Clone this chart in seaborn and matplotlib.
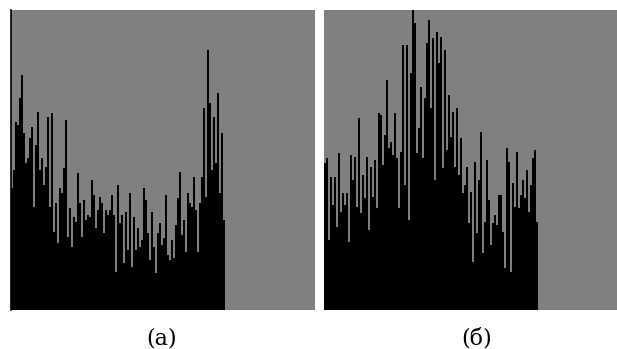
import numpy as np
import pandas as pd
import matplotlib
matplotlib.use("Agg")
import matplotlib.pyplot as plt
import seaborn as sns

# Histogram heights (pixel units of a 300-high panel), one per 2-px bin
hist_a = [122, 140, 188, 185, 212, 235, 177, 147, 152, 172, 183, 103, 165, 198,
          140, 152, 125, 143, 193, 103, 197, 78, 107, 67, 122, 117, 142, 190,
          73, 102, 63, 93, 88, 137, 107, 73, 110, 90, 95, 93, 130, 115, 82, 100,
          113, 107, 77, 100, 95, 100, 115, 95, 38, 125, 87, 95, 47, 98, 60, 117,
          43, 93, 60, 82, 63, 70, 122, 110, 77, 50, 98, 63, 37, 77, 87, 65, 72,
          115, 55, 50, 70, 52, 85, 112, 138, 75, 90, 58, 117, 107, 103, 133,
          100, 58, 107, 133, 202, 113, 260, 207, 140, 193, 147, 217, 117, 177, 90]
hist_b = [147, 152, 70, 133, 105, 133, 83, 157, 98, 117, 105, 117, 68, 155,
          130, 153, 103, 192, 97, 135, 112, 153, 80, 143, 113, 150, 102, 197,
          195, 145, 175, 230, 162, 168, 155, 197, 152, 102, 158, 265, 125, 265,
          90, 237, 300, 287, 157, 182, 223, 152, 212, 267, 290, 202, 272, 130,
          278, 247, 273, 142, 260, 160, 215, 173, 198, 143, 202, 135, 172, 117,
          125, 143, 87, 118, 48, 148, 77, 130, 178, 57, 88, 150, 110, 65, 87,
          95, 85, 115, 115, 78, 42, 162, 148, 38, 127, 103, 158, 102, 115, 130,
          112, 140, 98, 125, 152, 160, 88]
labels = ["(а)", "(б)"]

W, H, DPI = 617, 349, 100
fig = plt.figure(figsize=(W / DPI, H / DPI), dpi=DPI, facecolor="white")

panels = [
    (hist_a, (11, 10, 304, 300), 304, True),
    (hist_b, (324, 10, 293, 300), 293, False),
]
label_x = [162, 477]

for (vals, (px, py, pw, ph), xmax, left_line), lab, lx in zip(panels, labels, label_x):
    ax = fig.add_axes([px / W, 1 - (py + ph) / H, pw / W, ph / H])
    ax.set_facecolor("#808080")
    n = len(vals)
    df = pd.DataFrame({"pos": np.arange(n) * 2 + 1.0, "h": np.asarray(vals, float)})
    sns.histplot(data=df, x="pos", weights="h", binwidth=2, binrange=(0, 2 * n),
                 color="black", alpha=1, edgecolor="none", linewidth=0, ax=ax)
    ax.set_xlim(0, xmax)
    ax.set_ylim(0, 300)
    ax.set_xticks([])
    ax.set_yticks([])
    ax.set_xlabel("")
    ax.set_ylabel("")
    for s in ax.spines.values():
        s.set_visible(False)
    if left_line:
        ax.spines["left"].set_visible(True)
        ax.spines["left"].set_color("black")
        ax.spines["left"].set_linewidth(1.2)
    fig.text(lx / W, 1 - 338 / H, lab, ha="center", va="center",
             fontsize=16, family=["DejaVu Serif"])

fig.savefig("out.png", dpi=DPI, facecolor="white")
